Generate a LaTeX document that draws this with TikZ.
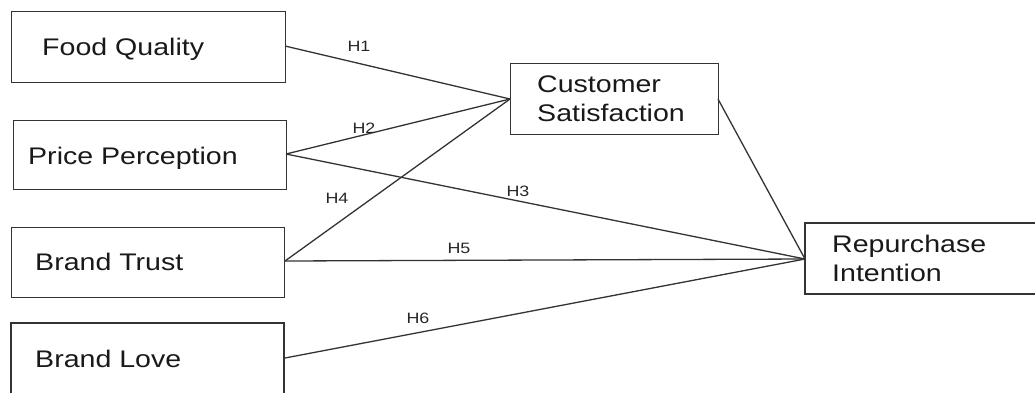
\documentclass[tikz,border=0pt]{standalone}
\usepackage{fontspec}
\setmainfont{Liberation Sans}[FakeStretch=1.19]
\begin{document}
\begin{tikzpicture}[x=1pt,y=-1pt,
  box/.style={draw=black!80,line width=1.4pt,rectangle,inner sep=0pt,anchor=north west},
  openbox/.style={draw=black!80,line width=1.4pt},
  lbl/.style={font=\fontsize{24}{29}\selectfont,text=black!90,inner sep=0pt,anchor=base west},
  hyp/.style={font=\fontsize{15}{18}\selectfont,text=black!85,inner sep=0pt},
  conn/.style={draw=black!80,line width=1.3pt}]
\useasboundingbox (0,0) rectangle (1035,392);
% boxes
\node[box,minimum width=274pt,minimum height=71pt] (fq) at (11,11) {};
\node[box,minimum width=273pt,minimum height=69pt] (pp) at (13,120) {};
\node[box,minimum width=273pt,minimum height=70pt] (bt) at (11,227) {};
\coordinate (blTL) at (11,323);
\coordinate (blTR) at (284,323);
\draw[openbox] (11,393) -- (blTL) -- (blTR) -- (284,393);
\node[box,minimum width=208pt,minimum height=71pt] (cs) at (510,63) {};
\coordinate (riTL) at (805,223);
\coordinate (riBL) at (805,294);
\draw[openbox] (1036,223) -- (riTL) -- (riBL) -- (1036,294);
% texts
\node[lbl] (fqt) at (42,55) {Food Quality};
\node[lbl] (ppt) at (28,164) {Price Perception};
\node[lbl] (btt) at (35,270) {Brand Trust};
\node[lbl] (blt) at (35,367) {Brand Love};
\node[lbl] (cst1) at (537,92) {Customer};
\node[lbl] (cst2) at (537,121) {Satisfaction};
\node[lbl] (rit1) at (832,252) {Repurchase};
\node[lbl] (rit2) at (832,281) {Intention};
% anchor points
\coordinate (fqR) at (285,46);
\coordinate (ppR) at (286,154);
\coordinate (btR) at (285,261);
\coordinate (blR) at (285,358);
\coordinate (csL) at (510,99);
\coordinate (csR) at (718,99);
\coordinate (riL) at (805,259);
% connectors
\draw[conn] (fqR) -- (csL);
\draw[conn] (ppR) -- (csL);
\draw[conn] (btR) -- (csL);
\draw[conn] (ppR) -- (riL);
\draw[conn] (btR) -- (riL);
\draw[conn] (blR) -- (riL);
\draw[conn] (csR) -- (riL);
% hypothesis labels
\node[hyp] (h1) at (359,46) {H1};
\node[hyp] (h2) at (364,128) {H2};
\node[hyp] (h3) at (518,191) {H3};
\node[hyp] (h4) at (337,198) {H4};
\node[hyp] (h5) at (459,248) {H5};
\node[hyp] (h6) at (418,318) {H6};
\end{tikzpicture}
\end{document}
